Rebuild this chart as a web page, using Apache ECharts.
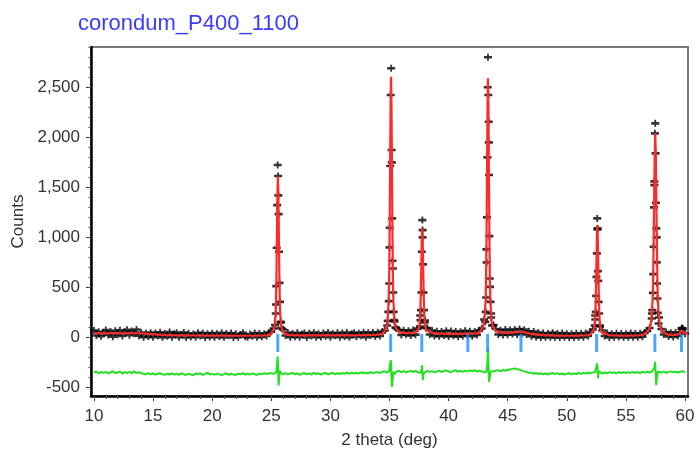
<!DOCTYPE html>
<html>
<head>
<meta charset="utf-8">
<script src="https://cdn.jsdelivr.net/npm/echarts@6/dist/echarts.min.js"></script>
<style>
html,body{margin:0;padding:0;background:#fff;}
#chart{width:698px;height:456px;}
</style>
</head>
<body>
<div id="chart"></div>
<script>
const chartTitle = 'corondum_P400_1100';
const xAxisTitle = '2 theta (deg)';
const yAxisTitle = 'Counts';
const xTickValues = [10, 15, 20, 25, 30, 35, 40, 45, 50, 55, 60];
const yTickValues = [-500, 0, 500, 1000, 1500, 2000, 2500];

// observed scan, uniform grid
const scanStart = 10;
const scanStep = 0.2;
const observedCounts = [
  70, 20, 57, 12, 47,   // 10
  75, 24, 60, 8, 66,    // 11
  28, 72, 15, 55, 77,   // 12
  22, 64, 36, 80, 18,   // 13
  50, 2, 42, 10, 48,    // 14
  3, 45, 18, 52, 1,     // 15
  40, 12, 55, 3, 38,    // 16
  48, 2, 30, 50, 0,     // 17
  42, 8, 35, 2, 47,     // 18
  15, 44, 0, 38, 5,     // 19
  43, 3, 36, 10, 47,    // 20
  1, 40, 16, 45, 0,     // 21
  37, 2, 30, 46, 8,     // 22
  1, 35, 12, 44, 3,     // 23
  40, 6, 38, 15, 50,    // 24
  58, 90, 330, 1420, 150, // 25
  80, 20, 50, 3, 40,    // 26
  8, 47, 2, 35, 44,     // 27
  0, 42, 15, 48, 3,     // 28
  38, 5, 45, 12, 50,    // 29
  2, 40, 18, 47, 3,     // 30
  44, 10, 49, 1, 37,    // 31
  48, 6, 42, 17, 52,    // 32
  2, 46, 20, 50, 10,    // 33
  52, 15, 60, 70, 120,  // 34
  900, 1750, 175, 90, 75, // 35
  25, 72, 30, 68, 20,   // 36
  75, 28, 90, 220, 1000, // 37
  170, 95, 30, 70, 15,  // 38
  62, 12, 60, 20, 66,   // 39
  10, 64, 18, 60, 8,    // 40
  58, 15, 66, 22, 62,   // 41
  12, 60, 25, 72, 90,   // 42
  180, 880, 1950, 240, 125, // 43
  85, 30, 72, 25, 80,   // 44
  28, 75, 34, 80, 30,   // 45
  85, 40, 78, 30, 62,   // 46
  12, 60, 5, 50, 0,     // 47
  45, 2, 42, 2, 48,     // 48
  1, 40, 0, 44, 3,      // 49
  38, 0, 36, 0, 42,     // 50
  2, 40, 3, 45, 15,     // 51
  55, 80, 220, 1080, 120, // 52
  70, 15, 45, 0, 38,    // 53
  2, 42, 5, 40, 1,      // 54
  38, 3, 44, 2, 40,     // 55
  2, 42, 8, 50, 65,     // 56
  95, 240, 1560, 1000, 200, // 57
  85, 30, 55, 10, 48,   // 58
  5, 50, 15, 52, 90,    // 59
  38                    // 60
];
// extra observed points across the peaks
const observedPeakPoints = [
  [25.32,123],[25.38,240],[25.42,513],[25.46,896],[25.50,1323],[25.54,1723],[25.58,1613],[25.62,1233],[25.66,856],[25.70,546],[25.74,356],[25.80,156],[25.86,93],
  [34.85,166],[34.90,256],[34.94,363],[34.98,540],[35.02,1096],[35.06,1713],[35.10,2423],[35.14,2690],[35.18,1873],[35.22,1190],[35.25,766],[35.28,690],[35.31,450],[35.35,256],[35.42,160],[35.50,100],
  [37.57,110],[37.62,173],[37.66,273],[37.70,450],[37.74,856],[37.78,1173],[37.80,1073],[37.84,730],[37.88,450],[37.92,273],[37.98,150],[38.06,95],
  [43.10,156],[43.14,256],[43.18,400],[43.22,750],[43.25,1200],[43.28,1800],[43.31,2500],[43.33,2800],[43.36,2423],[43.39,2156],[43.42,1623],[43.45,1013],[43.48,590],[43.51,506],[43.55,356],[43.60,200],[43.68,120],
  [52.36,120],[52.41,180],[52.45,256],[52.48,416],[52.51,606],[52.54,840],[52.57,1190],[52.60,1090],[52.63,663],[52.66,566],[52.69,356],[52.73,240],[52.80,110],
  [57.18,190],[57.23,273],[57.28,446],[57.31,633],[57.34,906],[57.37,1300],[57.41,1523],[57.45,2040],[57.48,2140],[57.51,1840],[57.54,1346],[57.57,1090],[57.60,750],[57.63,540],[57.66,390],[57.70,246],[57.76,140],
  [59.70,88],[59.74,95],[59.78,80]
];
// calculated profile
const calculatedPoints = [
  [10,42],[11,42],[12,42],[13,42],[13.95,42],[14.05,26],[16,24],[18,21],[20,19],[22,17],[24,17],[24.6,21],[24.9,30],
  [25.0,40],[25.16,66],[25.26,98],[25.36,225],[25.40,368],[25.44,638],[25.48,1018],[25.52,1418],[25.56,1608],[25.60,1418],[25.64,1018],[25.68,638],[25.72,368],[25.76,225],[25.86,98],[25.96,66],[26.12,40],[26.4,25],
  [27,21],[29,20],[31,21],[33,23],[34,27],[34.4,36],
  [34.6,66],[34.75,95],[34.83,159],[34.93,365],[34.97,597],[35.01,1035],[35.05,1653],[35.09,2297],[35.13,2606],[35.17,2297],[35.21,1653],[35.25,1035],[35.29,597],[35.33,365],[35.43,159],[35.53,95],[35.7,66],
  [36.0,48],[36.5,43],[37.0,46],
  [37.21,50],[37.37,67],[37.47,88],[37.57,172],[37.61,267],[37.65,446],[37.69,700],[37.73,963],[37.77,1090],[37.81,963],[37.85,700],[37.89,446],[37.93,267],[37.97,172],[38.07,88],[38.17,67],[38.33,50],
  [38.8,40],[40,36],[41,36],[41.67,39],[42.2,38],[42.6,48],
  [42.77,76],[42.93,117],[43.03,168],[43.13,372],[43.17,601],[43.21,1035],[43.25,1647],[43.29,2284],[43.33,2590],[43.37,2284],[43.41,1647],[43.45,1035],[43.49,601],[43.53,372],[43.63,168],[43.73,117],[43.89,76],
  [44.3,50],[45,46],[45.8,52],[46.17,60],[46.5,48],[47,35],[48,24],[49,19],[50,17],[51,18],[51.8,22],
  [52.02,33],[52.18,51],[52.28,73],[52.38,162],[52.42,261],[52.46,449],[52.50,714],[52.54,990],[52.58,1123],[52.62,990],[52.66,714],[52.70,449],[52.74,261],[52.78,162],[52.88,73],[52.98,51],[53.14,33],
  [53.6,22],[54.5,17],[55.5,17],[56.3,22],
  [56.75,48],[56.96,81],[57.09,121],[57.22,283],[57.28,464],[57.33,808],[57.38,1293],[57.43,1798],[57.48,2040],[57.53,1798],[57.58,1293],[57.63,808],[57.68,464],[57.74,283],[57.87,121],[58.0,81],[58.21,48],
  [58.6,28],[59.2,26],[59.5,35],[59.6,48],[59.7,70],[59.75,76],[59.8,68],[59.9,45],[60.0,33],[60.25,30]
];
// difference curve (offset), same uniform grid
const differenceCounts = [
  -350,-340,-358,-345,-354, // 10
  -343,-360,-348,-338,-356, // 11
  -350,-341,-361,-346,-355, // 12
  -344,-357,-339,-353,-348, // 13
  -358,-363,-370,-357,-368, // 14
  -360,-372,-363,-356,-369, // 15
  -374,-362,-370,-358,-371, // 16
  -363,-373,-357,-367,-375, // 17
  -361,-370,-377,-359,-368, // 18
  -357,-374,-366,-351,-371, // 19
  -364,-372,-361,-369,-376, // 20
  -366,-358,-373,-363,-371, // 21
  -374,-362,-369,-356,-372, // 22
  -363,-371,-359,-367,-374, // 23
  -361,-369,-356,-365,-360, // 24
  -356,-364,-350,-400,-355, // 25
  -366,-356,-370,-361,-355, // 26
  -368,-358,-373,-362,-356, // 27
  -369,-359,-371,-354,-365, // 28
  -358,-370,-361,-355,-368, // 29
  -362,-353,-369,-357,-365, // 30
  -355,-364,-350,-361,-353, // 31
  -362,-352,-360,-348,-358, // 32
  -351,-360,-346,-356,-349, // 33
  -346,-355,-342,-338,-352, // 34
  -310,-494,-368,-338,-334, // 35
  -347,-336,-350,-339,-334, // 36
  -345,-335,-348,-352,-380, // 37
  -347,-333,-344,-336,-348, // 38
  -341,-332,-345,-335,-329, // 39
  -340,-347,-334,-328,-343, // 40
  -333,-344,-331,-341,-329, // 41
  -338,-327,-342,-332,-340, // 42
  -347,-345,-390,-352,-338, // 43
  -333,-326,-338,-323,-332, // 44
  -325,-318,-314,-309,-317, // 45
  -321,-331,-339,-346,-352, // 46
  -354,-363,-355,-366,-358, // 47
  -368,-359,-370,-361,-355, // 48
  -366,-357,-369,-360,-372, // 49
  -362,-356,-368,-359,-365, // 50
  -355,-364,-353,-361,-350, // 51
  -357,-349,-345,-300,-352, // 52
  -360,-349,-358,-347,-356, // 53
  -349,-359,-345,-355,-347, // 54
  -356,-346,-354,-344,-352, // 55
  -346,-355,-343,-351,-342, // 56
  -350,-338,-310,-430,-345, // 57
  -352,-342,-353,-344,-339, // 58
  -349,-341,-352,-343,-338, // 59
  -346                      // 60
];
const differencePeakPoints = [
  [25.44,-330],[25.50,-250],[25.54,-190],[25.58,-300],[25.62,-480],[25.66,-420],[25.72,-330],
  [34.98,-330],[35.06,-260],[35.12,-227],[35.16,-400],[35.26,-430],[35.32,-340],
  [37.70,-330],[37.76,-277],[37.82,-427],[37.88,-360],
  [43.22,-330],[43.28,-250],[43.33,-110],[43.38,-300],[43.43,-444],[43.50,-380],[43.58,-340],
  [52.50,-330],[52.56,-260],[52.64,-410],[52.70,-340],
  [57.35,-330],[57.42,-290],[57.47,-244],[57.52,-360],[57.56,-477],[57.62,-400],[57.70,-340]
];
// reflection positions (deg)
const reflectionPositions = [25.55, 35.1, 37.73, 41.63, 43.3, 46.12, 52.52, 57.45, 59.7];
const reflectionLevel = -55;

// ---- build tables ----
const gridX = i => Math.round((scanStart + i * scanStep) * 100) / 100;
const obsData = observedCounts.map((y, i) => [gridX(i), y]).concat(observedPeakPoints);
const diffData = differenceCounts.map((y, i) => [gridX(i), y]).concat(differencePeakPoints)
  .sort((a, b) => a[0] - b[0]);
const tickData = reflectionPositions.map(x => [x, reflectionLevel]);
const xMinor = [];
for (let v = xTickValues[0]; v <= xTickValues[xTickValues.length - 1]; v += 1) xMinor.push(v);
const yMinor = [];
for (let v = yTickValues[0]; v <= 2900; v += 100) yMinor.push(v);

const FONT = 'Liberation Sans, Arial, sans-serif';
const labelStyle = { fontFamily: FONT, fontSize: 17, color: '#333' };
const plusPath = 'path://M0,2.2H7V4.8H0Z M2.7,0H4.3V7H2.7Z';

const chart = echarts.init(document.getElementById('chart'), null, { renderer: 'canvas' });
chart.setOption({
  animation: false,
  title: {
    text: chartTitle, left: 73, top: 8,
    textStyle: { fontFamily: FONT, fontSize: 22, fontWeight: 'normal', color: '#3c3cff' }
  },
  grid: { left: 91, right: 10, top: 47, bottom: 60, show: true, borderColor: '#7a7a7a', borderWidth: 2, backgroundColor: '#fff' },
  xAxis: [{
    type: 'value', min: 9.75, max: 60.25,
    name: xAxisTitle, nameLocation: 'middle', nameGap: 36,
    nameTextStyle: { fontFamily: FONT, fontSize: 17, color: '#333' },
    axisLine: { show: true, onZero: false, lineStyle: { color: '#000', width: 2.5 } },
    axisTick: { show: true, customValues: xTickValues, length: 5, lineStyle: { color: '#333' } },
    axisLabel: Object.assign({ customValues: xTickValues, margin: 12 }, labelStyle),
    splitLine: { show: false }
  }, {
    type: 'value', min: 9.75, max: 60.25, position: 'bottom',
    axisLine: { show: false, onZero: false },
    axisTick: { show: true, customValues: xMinor, length: 3, lineStyle: { color: '#555' } },
    axisLabel: { show: false }, splitLine: { show: false }
  }],
  yAxis: [{
    type: 'value', min: -585, max: 2903,
    name: yAxisTitle, nameLocation: 'middle', nameGap: 64,
    nameTextStyle: { fontFamily: FONT, fontSize: 17, color: '#333' },
    axisLine: { show: true, onZero: false, lineStyle: { color: '#000', width: 2.5 } },
    axisTick: { show: true, customValues: yTickValues, length: 5, lineStyle: { color: '#333' } },
    axisLabel: Object.assign({ customValues: yTickValues, margin: 11,
      formatter: v => Number(v).toLocaleString('en-US') }, labelStyle),
    splitLine: { show: false }
  }, {
    type: 'value', min: -585, max: 2903, position: 'left',
    axisLine: { show: false, onZero: false },
    axisTick: { show: true, customValues: yMinor, length: 2.5, lineStyle: { color: '#555' } },
    axisLabel: { show: false }, splitLine: { show: false }
  }],
  series: [{
    type: 'scatter', name: 'observed', data: obsData,
    symbol: plusPath, symbolSize: [8, 7], symbolKeepAspect: false,
    itemStyle: { color: '#000' }, silent: true, z: 2
  }, {
    type: 'line', name: 'calculated', data: calculatedPoints, showSymbol: false,
    lineStyle: { color: '#ff2a2a', width: 2.2 }, silent: true, z: 3
  }, {
    type: 'line', name: 'difference', data: diffData, showSymbol: false,
    lineStyle: { color: '#22e022', width: 2 }, silent: true, z: 3
  }, {
    type: 'scatter', name: 'reflections', data: tickData,
    symbol: 'rect', symbolSize: [3, 18],
    itemStyle: { color: '#1e90ff' }, silent: true, z: 4
  }]
});
</script>
</body>
</html>
